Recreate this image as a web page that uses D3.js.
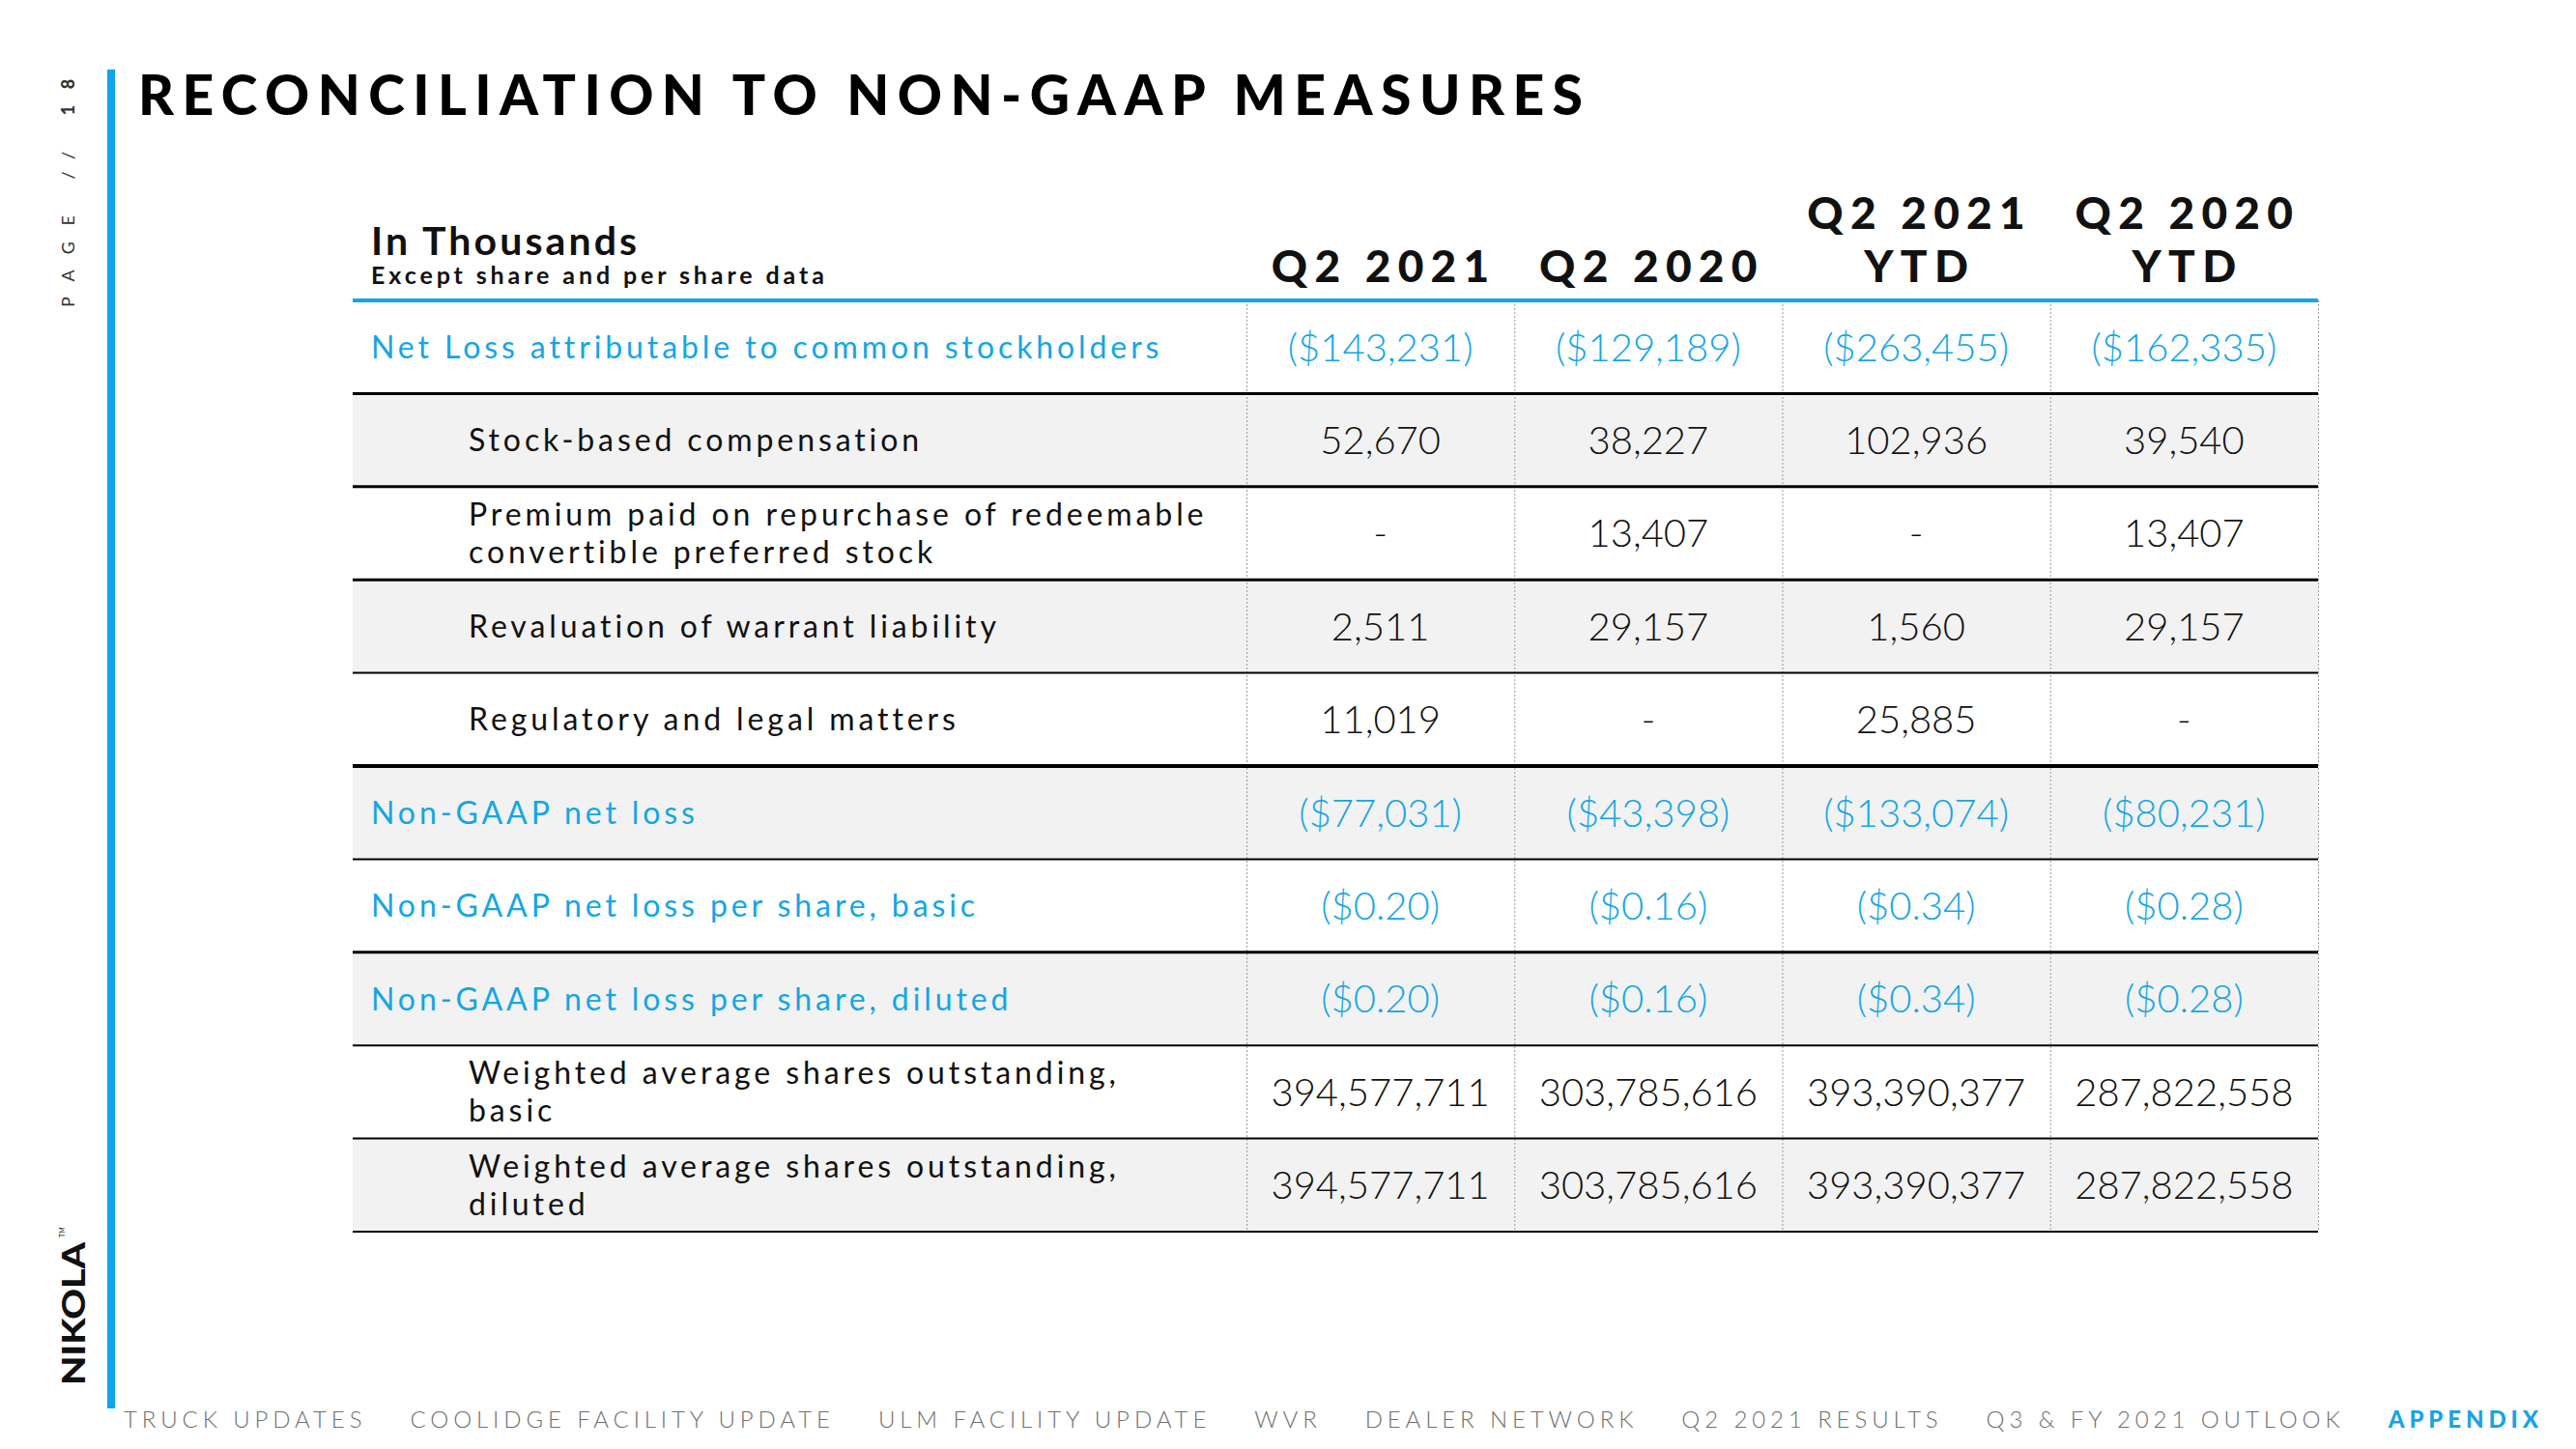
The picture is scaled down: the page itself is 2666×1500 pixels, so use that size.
<!DOCTYPE html>
<html>
<head>
<meta charset="utf-8">
<script src="https://cdn.jsdelivr.net/npm/d3@7"></script>
<style>
  html, body { margin: 0; padding: 0; background: #ffffff; }
  svg { display: block; }
</style>
</head>
<body>
<svg id="chart" width="2666" height="1500"></svg>
<script>
// ---------------- DATA ----------------
const title = "RECONCILIATION TO NON-GAAP MEASURES";
const unitTitle = "In Thousands";
const unitSubtitle = "Except share and per share data";
const columns = ["Q2 2021", "Q2 2020", "Q2 2021\nYTD", "Q2 2020\nYTD"];
const rowLabels = [
  "Net Loss attributable to common stockholders",
  "Stock-based compensation",
  "Premium paid on repurchase of redeemable\nconvertible preferred stock",
  "Revaluation of warrant liability",
  "Regulatory and legal matters",
  "Non-GAAP net loss",
  "Non-GAAP net loss per share, basic",
  "Non-GAAP net loss per share, diluted",
  "Weighted average shares outstanding,\nbasic",
  "Weighted average shares outstanding,\ndiluted"
];
// "total" rows are highlighted (blue), "item" rows are indented
const rowKinds = ["total", "item", "item", "item", "item", "total", "total", "total", "item", "item"];
// value format per row: usd = ($x,xxx), eps = ($0.00), int = x,xxx
const rowFormats = ["usd", "int", "int", "int", "int", "usd", "eps", "eps", "int", "int"];
const q2_2021     = [-143231, 52670, null, 2511, 11019, -77031, -0.20, -0.20, 394577711, 394577711];
const q2_2020     = [-129189, 38227, 13407, 29157, null, -43398, -0.16, -0.16, 303785616, 303785616];
const q2_2021_ytd = [-263455, 102936, null, 1560, 25885, -133074, -0.34, -0.34, 393390377, 393390377];
const q2_2020_ytd = [-162335, 39540, 13407, 29157, null, -80231, -0.28, -0.28, 287822558, 287822558];
const seriesValues = [q2_2021, q2_2020, q2_2021_ytd, q2_2020_ytd];
const navItems = ["TRUCK UPDATES", "COOLIDGE FACILITY UPDATE", "ULM FACILITY UPDATE", "WVR",
                  "DEALER NETWORK", "Q2 2021 RESULTS", "Q3 & FY 2021 OUTLOOK", "APPENDIX"];
const activeNav = "APPENDIX";
const pageLabel = "PAGE // ";
const pageNumber = "18";
const brand = "NIKOLA";

// ---------------- STYLE ----------------
const BLUE = "#14a6e3";
const BAR_BLUE = "#0ea5ec";
const INK = "#111111";
const ROW_GRAY = "#f2f2f2";
const sepWidths = [3, 3, 3, 2, 4, 2, 3, 2, 2, 2];
const FONT = "Lato, 'Open Sans', sans-serif";

const svg = d3.select("#chart");

// table geometry
const tableLeft = 365, tableRight = 2399, labelColRight = 1290;
const tableTop = 311, tableBottom = 1275;

const x = d3.scaleBand().domain(columns).range([labelColRight, tableRight]);
const y = d3.scaleBand().domain(d3.range(rowLabels.length)).range([tableTop, tableBottom]);

// formatting
const fmtInt = d3.format(",");
const fmtEps = d3.format(".2f");
function fmt(v, kind) {
  if (v === null || v === undefined) return "-";
  if (kind === "usd") return v < 0 ? "($" + fmtInt(-v) + ")" : "$" + fmtInt(v);
  if (kind === "eps") return v < 0 ? "($" + fmtEps(-v) + ")" : "$" + fmtEps(v);
  return fmtInt(v);
}

// ---------------- LEFT CHROME ----------------
svg.append("rect").attr("x", 111).attr("y", 72).attr("width", 8).attr("height", 1386).attr("fill", BAR_BLUE);

const pageText = svg.append("text")
  .attr("transform", "translate(77,318) rotate(-90)")
  .attr("font-family", FONT).attr("font-size", 18).attr("letter-spacing", 16.5)
  .attr("fill", "#333");
pageText.append("tspan").attr("font-weight", 400).text(pageLabel);
pageText.append("tspan").attr("font-weight", 900).text(pageNumber);

svg.append("text")
  .attr("transform", "translate(88,1434) rotate(-90)")
  .attr("font-family", FONT).attr("font-size", 33).attr("font-weight", 900)
  .attr("fill", "#111")
  .attr("textLength", 148).attr("lengthAdjust", "spacingAndGlyphs")
  .text(brand);
svg.append("text")
  .attr("transform", "translate(67,1281) rotate(-90)")
  .attr("font-family", FONT).attr("font-size", 7).attr("fill", "#111").text("TM");

// ---------------- TITLE ----------------
svg.append("text")
  .attr("x", 143).attr("y", 119)
  .attr("font-family", FONT).attr("font-size", 57).attr("font-weight", 900)
  .attr("fill", "#000")
  .attr("textLength", 1495).attr("lengthAdjust", "spacing")
  .text(title);

// ---------------- TABLE HEADER ----------------
svg.append("text")
  .attr("x", 384).attr("y", 264)
  .attr("font-family", FONT).attr("font-size", 41).attr("font-weight", 700)
  .attr("letter-spacing", 3.1).attr("fill", INK)
  .text(unitTitle);
svg.append("text")
  .attr("x", 384).attr("y", 294)
  .attr("font-family", FONT).attr("font-size", 25).attr("font-weight", 700)
  .attr("letter-spacing", 3.9).attr("fill", INK)
  .text(unitSubtitle);

const headerLine = 55;
columns.forEach(c => {
  const lines = c.split("\n");
  const t = svg.append("text")
    .attr("text-anchor", "middle")
    .attr("font-family", FONT).attr("font-size", 46).attr("font-weight", 900)
    .attr("letter-spacing", 7.3).attr("fill", INK);
  lines.forEach((ln, i) => {
    t.append("tspan")
      .attr("x", x(c) + x.bandwidth() / 2 + 3.6)
      .attr("y", 292 - (lines.length - 1 - i) * headerLine)
      .text(ln);
  });
});

// ---------------- TABLE BODY ----------------
// alternating gray background
svg.append("g").selectAll("rect")
  .data(rowLabels.map((d, i) => i).filter(i => i % 2 === 1))
  .join("rect")
  .attr("x", tableLeft).attr("y", i => y(i))
  .attr("width", tableRight - tableLeft).attr("height", y.bandwidth())
  .attr("fill", ROW_GRAY);

// column dividers (dotted)
const dividerXs = columns.map(c => x(c)).concat([x.range()[1]]);
svg.append("g").selectAll("line").data(dividerXs).join("line")
  .attr("x1", d => d + 0.5).attr("x2", d => d + 0.5)
  .attr("y1", tableTop).attr("y2", tableBottom)
  .attr("stroke", "#9a9a9a").attr("stroke-width", 1).attr("stroke-dasharray", "2,2");

// row separators
svg.append("g").selectAll("line").data(rowLabels).join("line")
  .attr("x1", tableLeft).attr("x2", tableRight)
  .attr("y1", (d, i) => y(i) + y.bandwidth()).attr("y2", (d, i) => y(i) + y.bandwidth())
  .attr("stroke", "#000").attr("stroke-width", (d, i) => sepWidths[i]);

// header blue rule
svg.append("line")
  .attr("x1", tableLeft).attr("x2", tableRight)
  .attr("y1", tableTop).attr("y2", tableTop)
  .attr("stroke", BLUE).attr("stroke-width", 4);

// row labels
const LABEL_FS = 32, LABEL_LH = 39;
rowLabels.forEach((lab, i) => {
  const lines = lab.split("\n");
  const cy = y(i) + y.bandwidth() / 2;
  const isTotal = rowKinds[i] === "total";
  const t = svg.append("text")
    .attr("font-family", FONT).attr("font-size", LABEL_FS).attr("font-weight", 400)
    .attr("letter-spacing", 3.9)
    .attr("fill", isTotal ? BLUE : INK);
  lines.forEach((ln, j) => {
    t.append("tspan")
      .attr("x", isTotal ? 384 : 485)
      .attr("y", cy + (j - (lines.length - 1) / 2) * LABEL_LH + LABEL_FS * 0.36)
      .text(ln);
  });
});

// values
const VAL_FS = 40;
columns.forEach((c, ci) => {
  const vals = seriesValues[ci];
  svg.append("g").selectAll("text").data(vals).join("text")
    .attr("x", x(c) + x.bandwidth() / 2)
    .attr("y", (d, i) => y(i) + y.bandwidth() / 2 + VAL_FS * 0.36)
    .attr("text-anchor", "middle")
    .attr("font-family", FONT).attr("font-size", VAL_FS).attr("font-weight", 300)
    .attr("fill", (d, i) => rowKinds[i] === "total" ? BLUE : INK)
    .text((d, i) => fmt(d, rowFormats[i]));
});

// ---------------- FOOTER NAV ----------------
const navStart = 128, navEnd = 2632, navBaseline = 1478;
const navTexts = svg.append("g").selectAll("text").data(navItems).join("text")
  .attr("y", navBaseline)
  .attr("font-family", FONT).attr("font-size", 24)
  .attr("font-weight", d => d === activeNav ? 900 : 300)
  .attr("letter-spacing", 4.9)
  .attr("fill", d => d === activeNav ? BLUE : "#6f6f6f")
  .text(d => d);
const widths = navTexts.nodes().map(n => n.getComputedTextLength());
const gap = (navEnd - navStart - d3.sum(widths)) / (navItems.length - 1);
let cx = navStart;
navTexts.each(function (d, i) {
  d3.select(this).attr("x", cx);
  cx += widths[i] + gap;
});
</script>
</body>
</html>
